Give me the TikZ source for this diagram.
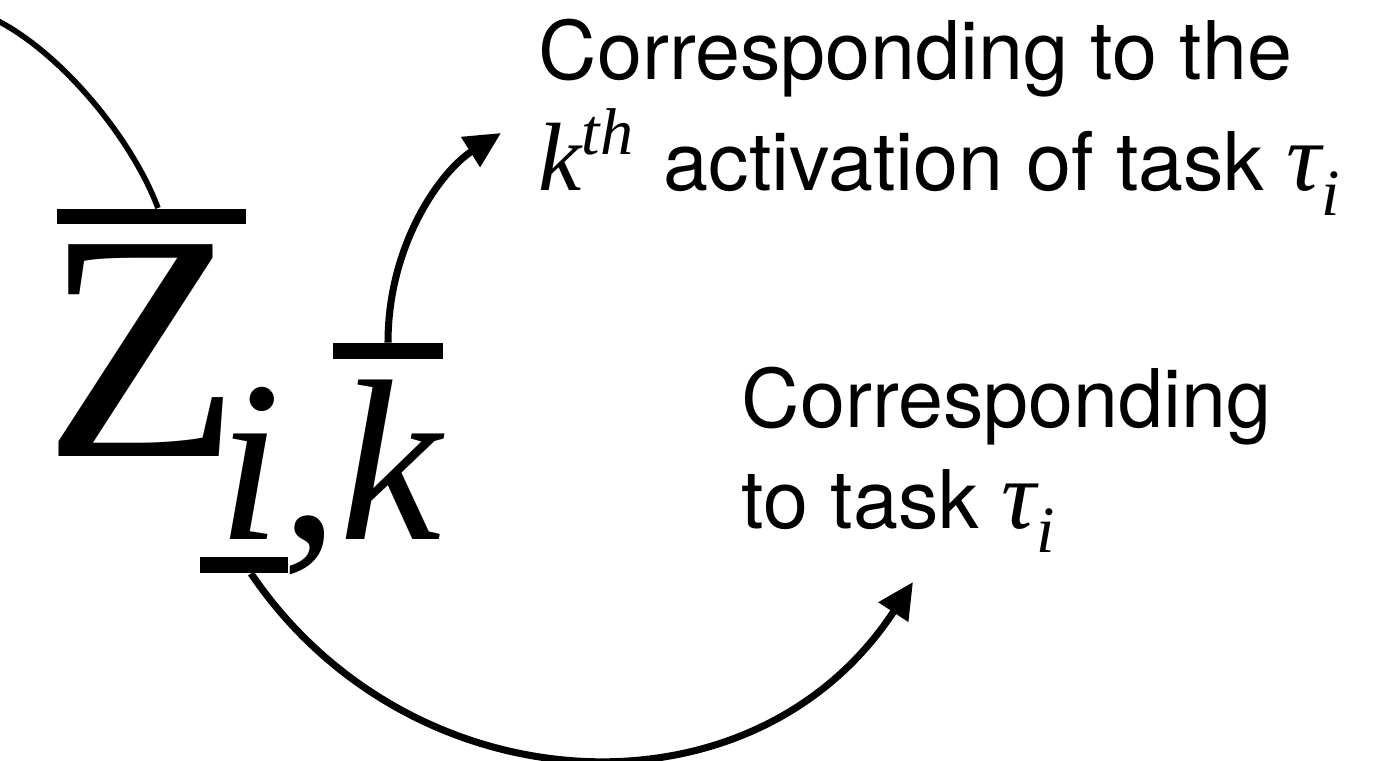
\documentclass[tikz,border=0pt]{standalone}
\usepackage{fontspec}
\setmainfont{TeX Gyre Heros}
\newfontfamily\tms{Liberation Serif}
\usetikzlibrary{arrows.meta}

% math-like pieces of the labels, set in a Times-like italic
\newcommand{\mvar}[1]{{\tms\itshape\fontsize{27.6}{30}\selectfont #1}}
\newcommand{\msup}[1]{\raisebox{0.36cm}{\tms\itshape\fontsize{18.8}{20}\selectfont #1}}
\newcommand{\msub}[1]{\raisebox{-0.24cm}{\tms\itshape\fontsize{18.8}{20}\selectfont #1}}

\begin{document}
\begin{tikzpicture}[
      x=0.01cm, y=-0.01cm,
      glyph/.style={inner sep=0pt, anchor=base west},
      bar/.style={fill=black, inner sep=0pt, minimum height=0.155cm},
      note/.style={inner sep=0pt, anchor=base west, align=left},
      lead/.style={line width=1.6pt},
      flow/.style={-{Triangle[length=0.36cm, width=0.34cm]}, line width=2pt},
    ]
    \useasboundingbox (0,0) rectangle (1394,761);

    % --- the symbol: Z with subscript i,k --------------------------------
    \node[glyph, font=\tms\fontsize{92}{92}\selectfont] (zsym) at (43,457) {Z};
    \node[glyph, font=\tms\itshape\fontsize{65.4}{66}\selectfont] (zsub)
         at (217,539) {i{\upshape,}k};

    % --- bars over Z, over k and under i -----------------------------------
    \node[bar, minimum width=1.89cm] (zbar) at (151.5,216.5) {};
    \node[bar, minimum width=1.10cm] (kbar) at (388,351) {};
    \node[bar, minimum width=0.88cm] (ibar) at (244,565) {};

    % --- the two explanations (anchored on their last line) ---------------
    \node[note, font=\fontsize{23}{31.6}\selectfont] (actnote) at (538,191)
         {Corresponding to the\\
          \mvar{k}\msup{th}\kern0.08cm{} activation of task \mvar{τ}\msub{i}};
    \node[note, font=\fontsize{23}{28.7}\selectfont] (tasknote) at (741,528)
         {Corresponding\\to task \mvar{τ}\msub{i}};

    % --- connectors ----------------------------------------------------------
    \coordinate (ztail) at (-8,18);
    \coordinate (ktip)  at (501,133);
    \coordinate (itip)  at (913,582);
    \draw[lead] (ztail) .. controls (56,48) and (130,134)
                .. ([xshift=0.065cm]zbar.north);
    \draw[flow] (kbar.north) .. controls (388,243) and (442,170) .. (ktip);
    \draw[flow] ([xshift=0.07cm]ibar.south) .. controls (409,807) and (752,828)
                .. (itip);
  \end{tikzpicture}
\end{document}
